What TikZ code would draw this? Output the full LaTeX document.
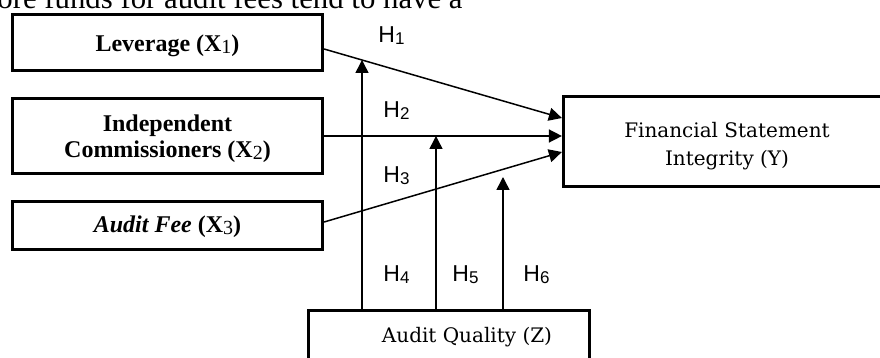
\documentclass[tikz,border=0pt]{standalone}
\usepackage{fontspec}
\setmainfont{Liberation Serif}
\newfontfamily\hsansfont{Liberation Sans}
\newfontfamily\bookfont{DejaVu Serif}
\usetikzlibrary{arrows.meta}
\newcommand\xsb[1]{{\mdseries\fontsize{10}{10}\selectfont\raisebox{-0.9pt}{#1}}}
\newcommand\hsb[1]{{\fontsize{8.5}{8.5}\selectfont\raisebox{-1pt}{#1}}}
\begin{document}
\begin{tikzpicture}[x=0.5pt,y=-0.5pt,
  varbox/.style={draw,line width=1.6pt,inner sep=0pt},
  xtext/.style={inner sep=0pt,align=center,font=\fontsize{12}{13}\selectfont\bfseries},
  ytext/.style={inner sep=0pt,align=center,font=\bookfont\fontsize{10}{14}\selectfont},
  hlab/.style={inner sep=0pt,anchor=base west,font=\hsansfont\fontsize{11.5}{11.5}\selectfont},
  arr/.style={line width=0.75pt,-{Triangle[length=6.5pt,width=6.5pt]}}]
\useasboundingbox (0,0) rectangle (880,358);
\clip (0,0) rectangle (880,358);
% clipped line of running text above the figure
\node[inner sep=0pt,anchor=base west,font=\fontsize{15.4}{15.4}\selectfont] (toptext) at (-27,9) {more funds for audit fees tend to have a};
% boxes
\node[varbox,minimum width=155pt,minimum height=28pt] (x1) at (167.5,42.5) {};
\node[varbox,minimum width=155pt,minimum height=37.5pt] (x2) at (167.5,136) {};
\node[varbox,minimum width=155pt,minimum height=24pt] (x3) at (167.5,225.5) {};
\node[varbox,minimum width=164.25pt,minimum height=45pt] (yb) at (727.75,141.5) {};
\node[varbox,minimum width=140.5pt,minimum height=34.75pt] (zb) at (449,345.25) {};
% texts
\node[xtext,anchor=base] (x1t) at (167.5,52) {Leverage (X\xsb{1})};
\node[xtext] (x2t) at (167.5,138.5) {Independent\\Commissioners (X\xsb{2})};
\node[xtext,anchor=base] (x3t) at (167.5,233) {\textit{Audit Fee} (X\xsb{3})};
\node[ytext] (yt) at (727,146) {Financial Statement\\Integrity (Y)};
\node[ytext,anchor=base] (zt) at (467,343) {Audit Quality (Z)};
% connectors
\draw[arr] ([yshift=-3.25pt]x1.east) -- ([yshift=11.75pt]yb.west);
\draw[arr] (x2.east) -- (x2.east -| yb.west);
\draw[arr] ([yshift=1.75pt]x3.east) -- ([yshift=-5.25pt]yb.west);
\coordinate (t1) at (362,60);
\coordinate (t2) at (436,136);
\coordinate (t3) at (503,177);
\draw[arr] (t1 |- zb.north) -- (t1);
\draw[arr] (t2 |- zb.north) -- (t2);
\draw[arr] (t3 |- zb.north) -- (t3);
% hypothesis labels
\node[hlab] (h1) at (378,43) {H\hsb{1}};
\node[hlab] (h2) at (383,118) {H\hsb{2}};
\node[hlab] (h3) at (383,183) {H\hsb{3}};
\node[hlab] (h4) at (383,282) {H\hsb{4}};
\node[hlab] (h5) at (452,282) {H\hsb{5}};
\node[hlab] (h6) at (523,282) {H\hsb{6}};
\end{tikzpicture}
\end{document}
